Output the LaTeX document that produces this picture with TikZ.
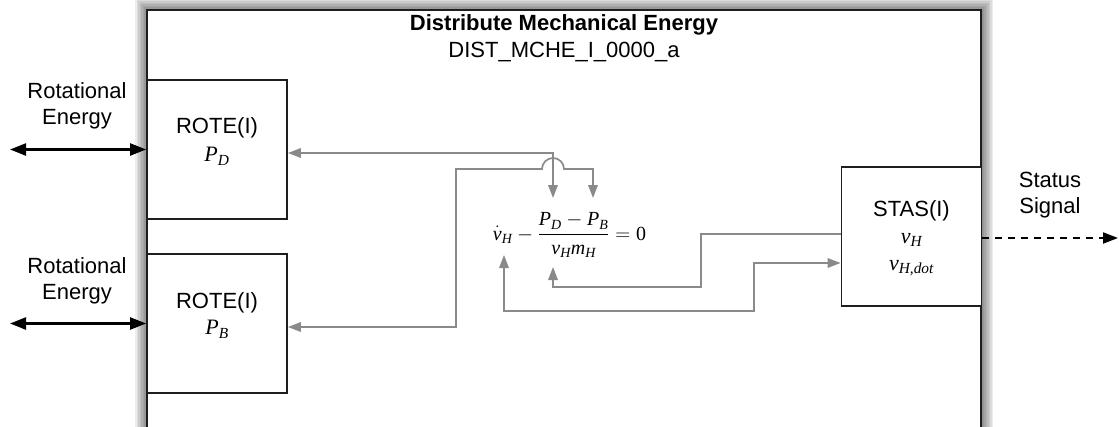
\documentclass[tikz,border=0pt]{standalone}
\usepackage{fontspec}
\usepackage{amsmath}
\setmainfont{Liberation Sans}
\newfontfamily\eqfont{Liberation Serif}
\usetikzlibrary{arrows.meta}
\definecolor{linkgray}{HTML}{8A8A8A}
\definecolor{framedark}{HTML}{1E1E1E}
\newcommand{\iv}[1]{\text{\eqfont\itshape #1}}

\tikzset{
  blockbox/.style={draw=framedark, line width=1.8pt, fill=white,
    minimum width=140pt, minimum height=139pt, inner sep=0pt},
  blocktext/.style={align=center, font=\fontsize{22}{27}\selectfont},
  sidetext/.style={align=center, font=\fontsize{22}{26.5}\selectfont},
  graylink/.style={draw=linkgray, line width=1.7pt,
    >={Triangle[length=13pt,width=9.5pt]}},
  energylink/.style={draw=black, line width=2.4pt, <->,
    >={Triangle[length=16pt,width=12pt]}},
  statuslink/.style={draw=black, line width=2pt, dash pattern=on 7pt off 6pt, ->,
    >={Triangle[length=15pt,width=11pt]}},
}

\begin{document}
\begin{tikzpicture}[x=1pt,y=-1pt]
  \useasboundingbox (0,0) rectangle (1119,426);

  % frame with soft shadow
  \begin{scope}
    \clip (0,0) rectangle (1119,426);
    \foreach \g in {1,...,8}
      \draw[black, opacity=0.07, line width=3*\g pt] (147,10) rectangle (981,460);
    \fill[white] (147,10) rectangle (981,460);
    \draw[framedark, line width=2pt] (147,10) rectangle (981,460);
  \end{scope}

  \node[anchor=base, font=\fontsize{22}{26}\selectfont\bfseries] (title) at (564,30)
    {Distribute Mechanical Energy};
  \node[anchor=base, font=\fontsize{22}{26}\selectfont] (subtitle) at (564,57)
    {DIST\_MCHE\_I\_0000\_a};

  % blocks
  \node[blockbox] (roteD) at (217,149.5) {};
  \node[blockbox] (roteB) at (217,323.5) {};
  \node[blockbox] (stas) at (911.5,236.5) {};
  \node[blocktext, font=\fontsize{22}{28}\selectfont] (roteDtext) at ([yshift=8pt]roteD.center)
    {ROTE(I)\\$\iv{P}_{\iv{D}}$};
  \node[blocktext, font=\fontsize{22}{26}\selectfont] (roteBtext) at ([yshift=8pt]roteB.center)
    {ROTE(I)\\$\iv{P}_{\iv{B}}$};
  \node[blocktext] (stastext) at ([yshift=-1.5pt]stas.center)
    {STAS(I)\\$\iv{v}_{\iv{H}}$\\$\iv{v}_{\iv{H,dot}}$};

  % outside labels
  \node[sidetext] (energyDtext) at (77,106) {Rotational\\Energy};
  \node[sidetext] (energyBtext) at (77,281) {Rotational\\Energy};
  \node[sidetext] (statustext) at (1050,195) {Status\\Signal};

  % equation
  \node[anchor=base, font=\fontsize{20}{24}\selectfont] (eq) at (569.5,240)
    {$\dot{\iv{v}}_{\iv{H}} - \dfrac{\iv{P}_{\iv{D}} - \iv{P}_{\iv{B}}}{\iv{v}_{\iv{H}}\iv{m}_{\iv{H}}}
      = \text{\eqfont 0}$};
  \coordinate (pdIn) at (553,198);
  \coordinate (pbIn) at (593,198);
  \coordinate (vdotIn) at (504,255);
  \coordinate (vhIn) at (553,267);

  % connectors
  \coordinate (energyD) at (10,149.5);
  \coordinate (energyB) at (10,323.5);
  \coordinate (statusOut) at (1118,238);
  \draw[energylink] (energyD) -- (roteD.west);
  \draw[energylink] (energyB) -- (roteB.west);
  \draw[statuslink] ([yshift=-1.5pt]stas.east) -- (statusOut);

  \draw[graylink, <->] ([yshift=-3.5pt]roteD.east) -| (pdIn);
  \draw[graylink, <->] ([yshift=-3.5pt]roteB.east) -| (456,169) -- (542,169)
    arc[start angle=180, end angle=0, radius=11pt] -| (pbIn);
  \draw[graylink, ->] ([yshift=2.5pt]stas.west) -| (701,287) -| (vhIn);
  \draw[graylink, <->] (vdotIn) |- (754,311) |- ([yshift=-26.5pt]stas.west);
\end{tikzpicture}
\end{document}
